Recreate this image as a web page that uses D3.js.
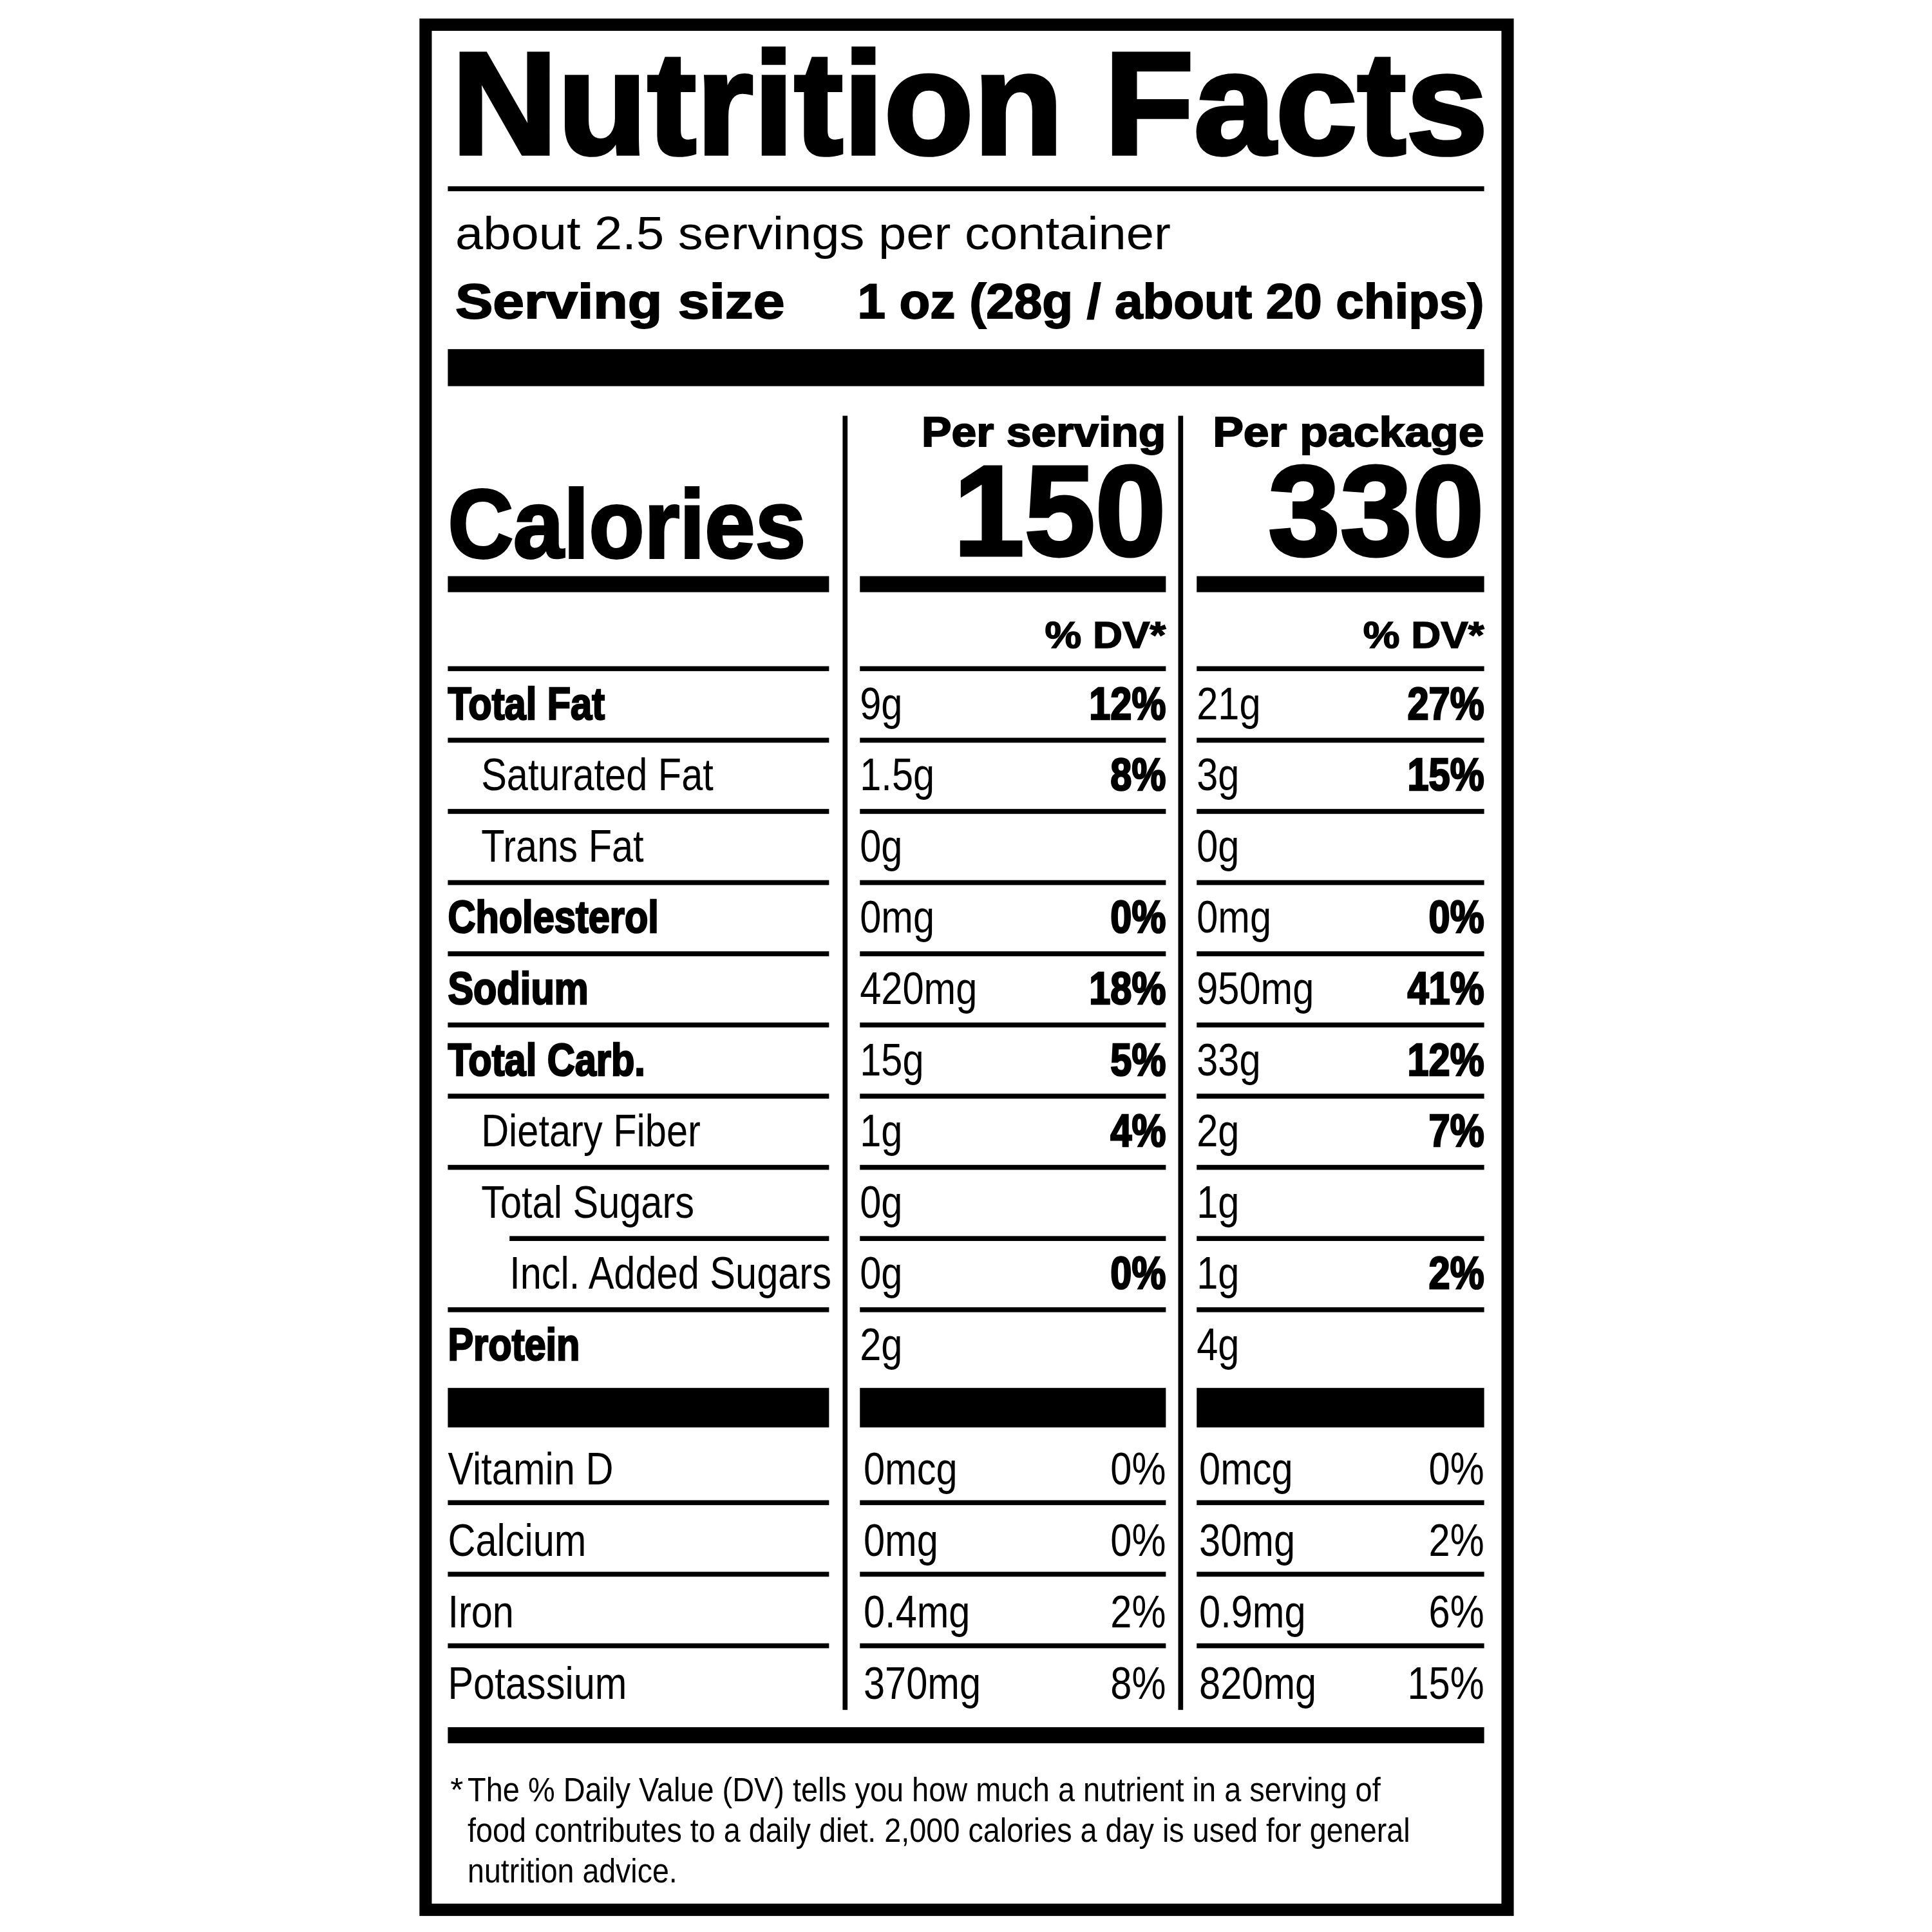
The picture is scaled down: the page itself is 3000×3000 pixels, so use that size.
<!DOCTYPE html>
<html><head><meta charset="utf-8">
<script src="https://cdn.jsdelivr.net/npm/d3@7"></script>
<style>body{margin:0;background:#fff}</style></head>
<body><svg id="c" width="3000" height="3000"></svg>
<script>
const nutrients = ["Total Fat","Saturated Fat","Trans Fat","Cholesterol","Sodium","Total Carb.","Dietary Fiber","Total Sugars","Incl. Added Sugars","Protein"];
const indent = [0,1,1,0,0,0,1,1,2,0];
const bold = [1,0,0,1,1,1,0,0,0,1];
const servAmt = ["9g","1.5g","0g","0mg","420mg","15g","1g","0g","0g","2g"];
const servDV = ["12%","8%","","0%","18%","5%","4%","","0%",""];
const pkgAmt = ["21g","3g","0g","0mg","950mg","33g","2g","1g","1g","4g"];
const pkgDV = ["27%","15%","","0%","41%","12%","7%","","2%",""];
const vitamins = ["Vitamin D","Calcium","Iron","Potassium"];
const vitServAmt = ["0mcg","0mg","0.4mg","370mg"];
const vitServDV = ["0%","0%","2%","8%"];
const vitPkgAmt = ["0mcg","30mg","0.9mg","820mg"];
const vitPkgDV = ["0%","2%","6%","15%"];
const calories = ["150","330"];
const footnote = ["The % Daily Value (DV) tells you how much a nutrient in a serving of","food contributes to a daily diet. 2,000 calories a day is used for general","nutrition advice."];

const S = 3000/1566;
const svg = d3.select("#c");
const g = svg.append("g").attr("transform",`scale(${S})`);
const F = "'Liberation Sans',Arial,sans-serif";
const FB = "'Liberation Sans','DejaVu Sans',sans-serif";
const L=363,R=1203, c1=[363,672], c2=[697,945], c3=[970,1203];

function rect(x1,y1,x2,y2){g.append("rect").attr("x",x1).attr("y",y1).attr("width",x2-x1).attr("height",y2-y1).attr("fill","#000");}
function text(t,x,y,size,opts={}){
  const e=g.append("text").attr("x",x).attr("y",y).attr("font-size",size)
   .attr("font-family",opts.family||F).attr("font-weight",opts.bold?"bold":"normal")
   .attr("text-anchor",opts.anchor||"start").attr("fill","#000").text(t);
  if(opts.bold){e.attr("stroke","#000").attr("stroke-width",opts.sw||1.2);}
  let len = opts.len;
  if(!len && opts.cond){ len = e.node().getComputedTextLength()*opts.cond; }
  if(len) e.attr("textLength",len).attr("lengthAdjust","spacingAndGlyphs");
  return e;
}
const CN = 0.84;
g.append("rect").attr("x",345).attr("y",20).attr("width",877).attr("height",1528).attr("fill","none").attr("stroke","#000").attr("stroke-width",10);
text("Nutrition Facts",366,125,118,{family:FB,bold:true,sw:3,len:840});
rect(L,151,R,155);
text("about 2.5 servings per container",369,202,38,{len:580});
text("Serving size",369,258,40,{family:FB,bold:true,sw:1,len:267});
text("1 oz (28g / about 20 chips)",1203,258,40,{family:FB,bold:true,sw:1,anchor:"end",len:508});
rect(L,283,R,313);
rect(683,337,687,1386); rect(955,337,959,1386);
text("Per serving",945,362,34,{family:FB,bold:true,sw:1,anchor:"end",len:198});
text("Per package",1203,362,34,{family:FB,bold:true,sw:1,anchor:"end",len:220});
text("Calories",363,452,78,{family:FB,bold:true,sw:2,len:290});
text(calories[0],945,450,104,{family:FB,bold:true,sw:2.5,anchor:"end",len:172});
text(calories[1],1203,450,104,{family:FB,bold:true,sw:2.5,anchor:"end",len:175});
[c1,c2,c3].forEach(c=>rect(c[0],467,c[1],480));
text("% DV*",945,525,30,{family:FB,bold:true,sw:0.8,anchor:"end",len:98});
text("% DV*",1203,525,30,{family:FB,bold:true,sw:0.8,anchor:"end",len:98});
[c1,c2,c3].forEach(c=>rect(c[0],540,c[1],544));

const y = d3.scaleLinear().domain([0,10]).range([600,1177]);
nutrients.forEach((n,i)=>{
  const base = y(i)-17;
  const lx = [363,390,413][indent[i]];
  text(n,lx,base,37,{bold:bold[i],sw:1.4,cond:CN});
  text(servAmt[i],697,base,37,{cond:CN});
  if(servDV[i]) text(servDV[i],945,base,37,{bold:true,anchor:"end",sw:1.4,cond:CN});
  text(pkgAmt[i],970,base,37,{cond:CN});
  if(pkgDV[i]) text(pkgDV[i],1203,base,37,{bold:true,anchor:"end",sw:1.4,cond:CN});
  if(i<nutrients.length-1){
    const x0 = i===7?413:363;
    rect(x0,y(i)-2,c1[1],y(i)+2); rect(c2[0],y(i)-2,c2[1],y(i)+2); rect(c3[0],y(i)-2,c3[1],y(i)+2);
  }
});
[c1,c2,c3].forEach(c=>rect(c[0],1125,c[1],1157));
const yv = d3.scaleLinear().domain([0,2]).range([1218,1334]);
vitamins.forEach((v,i)=>{
  const base = yv(i)-15;
  text(v,363,base,37,{cond:CN});
  text(vitServAmt[i],700,base,37,{cond:CN});
  text(vitServDV[i],945,base,37,{anchor:"end",cond:CN});
  text(vitPkgAmt[i],972,base,37,{cond:CN});
  text(vitPkgDV[i],1203,base,37,{anchor:"end",cond:CN});
  if(i<vitamins.length-1)[c1,c2,c3].forEach(c=>rect(c[0],yv(i)-2,c[1],yv(i)+2));
});
rect(L,1400,R,1413);
text("*",365,1460,27);
footnote.forEach((t,i)=>text(t,379,1460+i*33,27,{len:[740,764,170][i]}));
</script></body></html>
